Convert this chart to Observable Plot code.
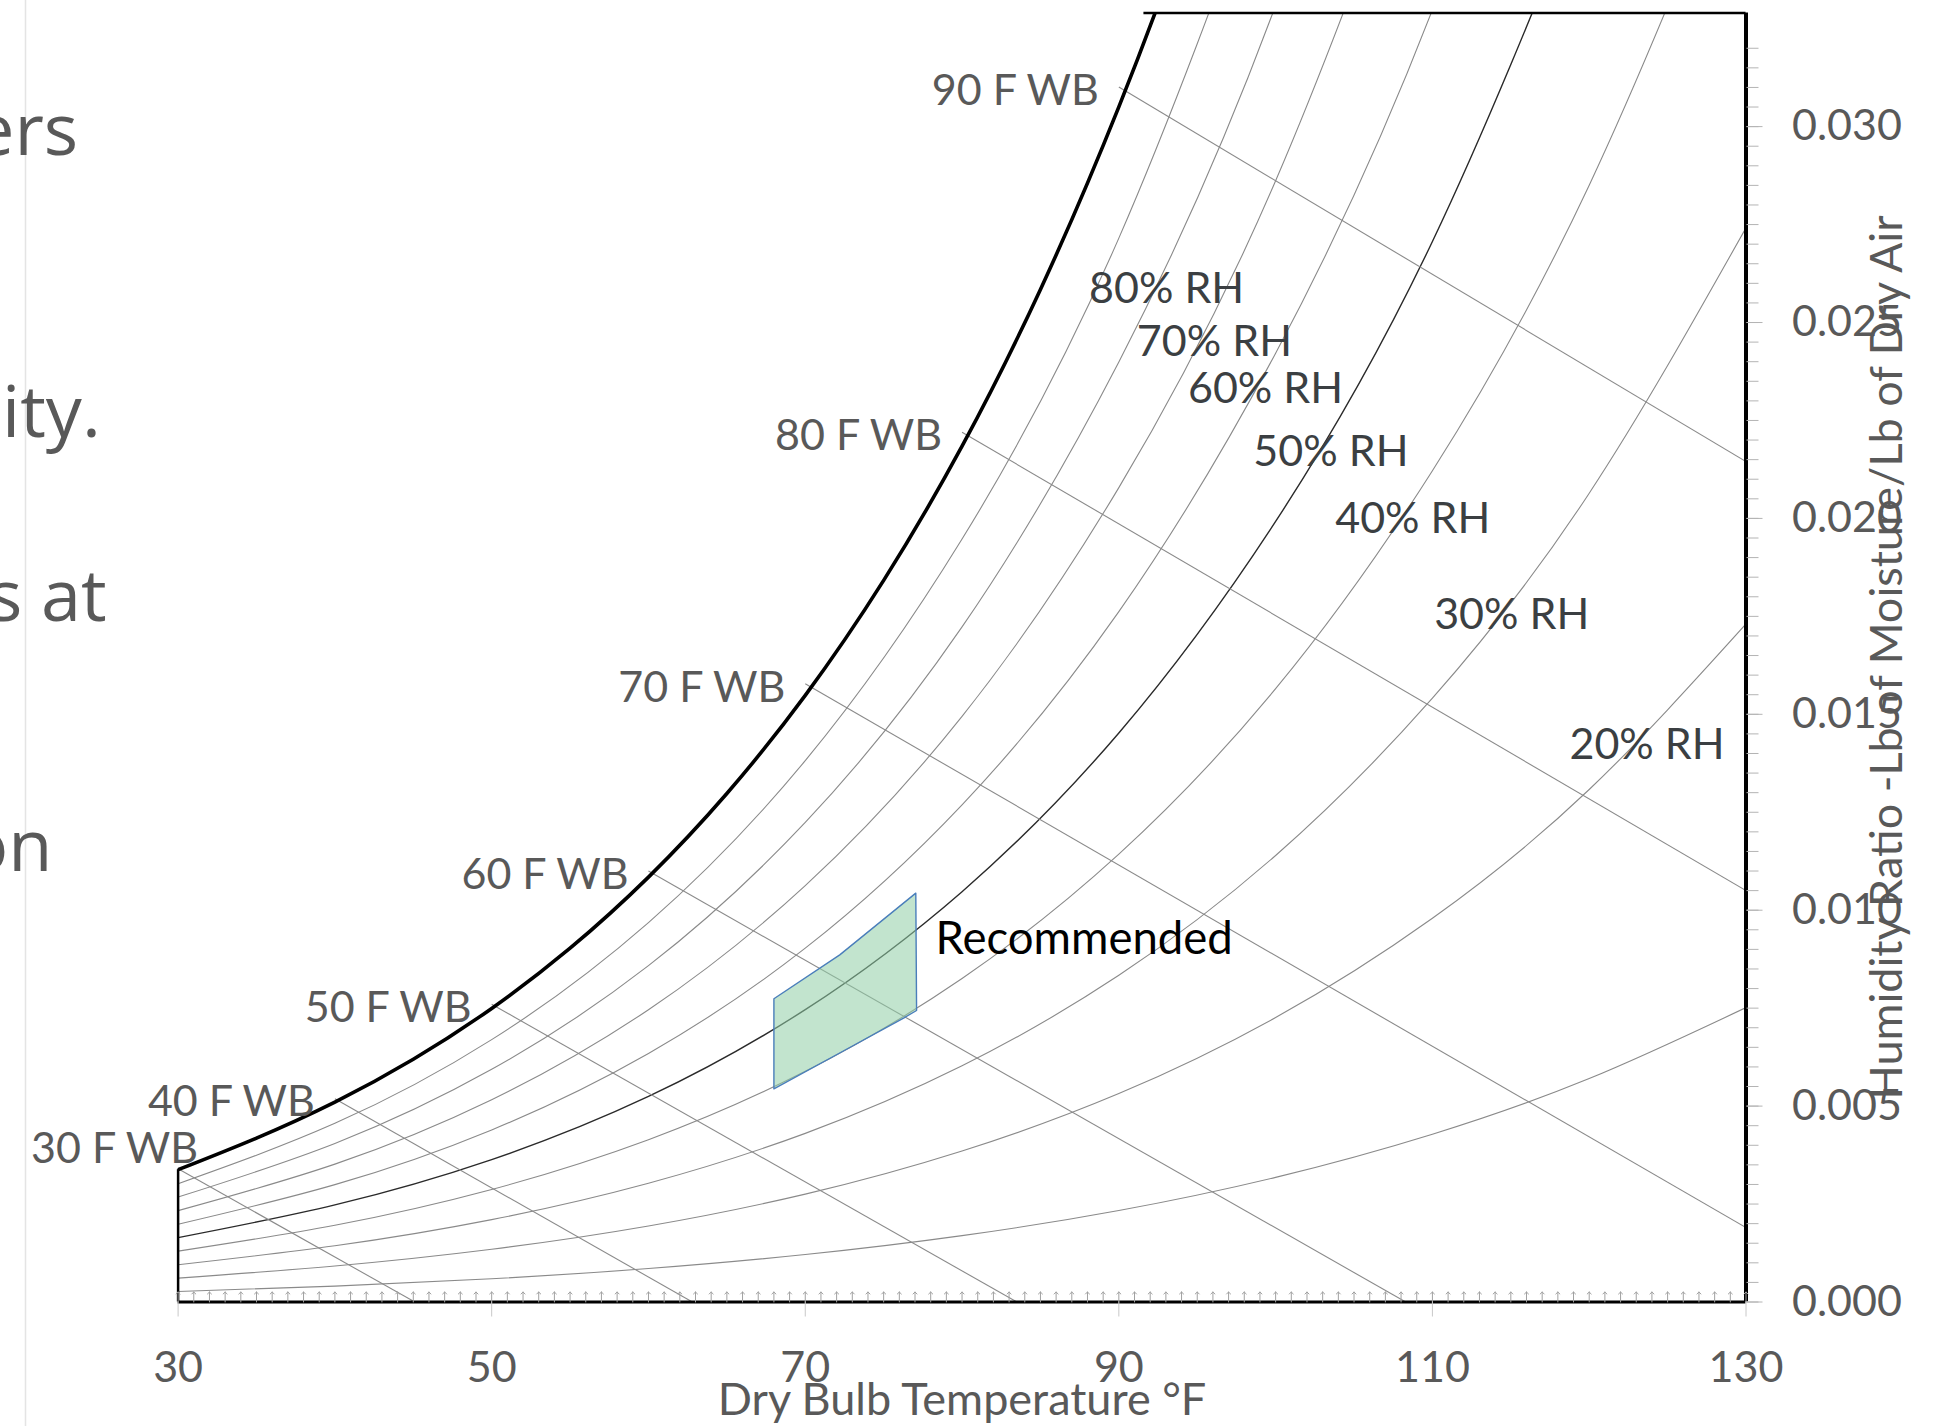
<!DOCTYPE html>
<html><head><meta charset="utf-8">
<script src="https://cdn.jsdelivr.net/npm/d3@7"></script>
<script src="https://cdn.jsdelivr.net/npm/@observablehq/plot@0.6"></script>
<style>
html,body{margin:0;padding:0;background:#fff;}
#wrap{position:relative;width:1947px;height:1426px;overflow:hidden;background:#fff;}
#chart{position:absolute;left:0;top:0;}
#slide{position:absolute;left:0;top:0;}
</style></head><body>
<div id="wrap">
<div id="chart"></div>
<svg id="slide" width="1947" height="1426">
  <line x1="25.5" y1="0" x2="25.5" y2="1426" stroke="#e4e4e4" stroke-width="1.5"/>
  <g font-family="'Open Sans', sans-serif" font-size="72" fill="#595959">
    <text x="-26" y="155">ers</text>
    <text x="2" y="437">ity.</text>
    <text x="-12" y="621">s at</text>
    <text x="-35" y="871">on</text>
  </g>
</svg>
</div>
<script>
// ---- data ----
const W_MAX = 0.0329;
const rhLevels = [10, 20, 30, 40, 50, 60, 70, 80, 90];
const rhTemps = [30, 40, 50, 60, 70, 80, 90, 100, 110, 120, 130];
const rh10 = [0.000269, 0.000405, 0.000593, 0.000854, 0.001211, 0.001693, 0.002335, 0.003181, 0.004282, 0.005702, 0.007514];
const rh20 = [0.000610, 0.000920, 0.001346, 0.001940, 0.002753, 0.003853, 0.005321, 0.007261, 0.009795, 0.013081, 0.017306];
const rh30 = [0.000951, 0.001435, 0.002102, 0.003031, 0.004304, 0.006029, 0.008338, 0.011397, 0.015411, 0.020643, 0.027417];
const rh40 = [0.001299, 0.001959, 0.002872, 0.004142, 0.005887, 0.008256, 0.011432, 0.015654, 0.021217, 0.028506, 0.038011];
const rh50 = [0.001644, 0.002479, 0.003635, 0.005246, 0.007462, 0.010473, 0.014524, 0.019923, 0.027068, 0.036480];
const rh60 = [0.001986, 0.002996, 0.004393, 0.006345, 0.009031, 0.012689, 0.017621, 0.024217, 0.032981, 0.044592];
const rh70 = [0.002332, 0.003519, 0.005163, 0.007460, 0.010628, 0.014947, 0.020786, 0.028618, 0.039071];
const rh80 = [0.002679, 0.004046, 0.005938, 0.008584, 0.012239, 0.017231, 0.023994, 0.033096, 0.045298];
const rh90 = [0.003019, 0.004560, 0.006696, 0.009685, 0.013817, 0.019473, 0.027154, 0.037527];

const satTemps = [30, 35, 40, 45, 50, 55, 60, 65, 70, 75, 80, 85, 90, 95, 100];
const satW = [0.003377, 0.004184, 0.005102, 0.006195, 0.007493, 0.009031, 0.010845, 0.012979, 0.015484, 0.018418, 0.021845, 0.025845, 0.030505, 0.035929, 0.042238];

const wbTemps = [30, 40, 50, 60, 70, 80, 90];
const wbStartW = [0.00340, 0.00519, 0.00760, 0.01100, 0.01578, 0.02220, 0.03101];
const wbEndT = [45.1, 62.8, 83.5, 108.3, 130, 130, 130];
const wbEndW = [0, 0, 0, 0, 0.0019, 0.0105, 0.02145];

const rhLabelText = ["80% RH", "70% RH", "60% RH", "50% RH", "40% RH", "30% RH", "20% RH"];
const rhLabelT = [88.10, 91.15, 94.41, 98.58, 103.80, 110.11, 118.74];
const rhLabelW = [0.025846, 0.024508, 0.023300, 0.021698, 0.019972, 0.017528, 0.014208];

const recT = [68.0, 68.0, 72.2, 77.05, 77.1, 76.3, 72.4, 68.0];
const recW = [0.00544, 0.00774, 0.00886, 0.010436, 0.00744, 0.007254, 0.00640, 0.00544];
const recLabel = ["Recommended"];
const recLabelT = [78.3];
const recLabelW = [0.009261];

const xTicks = [30, 50, 70, 90, 110, 130];
const yTicks = [0, 0.005, 0.010, 0.015, 0.020, 0.025, 0.030];
const xTitle = "Dry Bulb Temperature °F";
const yTitle = "Humidity Ratio -Lb of Moisture/Lb of Dry Air";

// ---- build tables ----
const rhSeries = [rh10, rh20, rh30, rh40, rh50, rh60, rh70, rh80, rh90];
const rhRows = rhLevels.flatMap((lv, i) => rhSeries[i].map((w, j) => ({rh: lv, t: rhTemps[j], w})));
const satRows = satTemps.map((t, i) => ({t, w: satW[i]}));
const wbRows = wbTemps.map((t, i) => ({t1: t, w1: wbStartW[i], t2: wbEndT[i], w2: wbEndW[i], label: `${t} F WB`}));
const rhLabels = rhLabelText.map((s, i) => ({s, t: rhLabelT[i], w: rhLabelW[i]}));
const recRows = recT.map((t, i) => ({t, w: recW[i]}));
const recLabels = recLabel.map((s, i) => ({s, t: recLabelT[i], w: recLabelW[i]}));
const yMinor = d3.range(0, 65).map(i => i * 0.0005).filter(v => v <= W_MAX);
const xMinor = d3.range(30, 131);

const FONT = "Lato, 'Open Sans', sans-serif";
const chart = Plot.plot({
  width: 1947,
  height: 1426,
  marginLeft: 177.6,
  marginRight: 201.5,
  marginTop: 12.5,
  marginBottom: 124.5,
  style: {fontFamily: FONT, fontSize: "43px", background: "transparent", overflow: "visible"},
  x: {domain: [30, 130]},
  y: {domain: [0, W_MAX]},
  marks: [
    // RH curves
    Plot.line(rhRows.filter(d => d.rh !== 50), {x: "t", y: "w", z: "rh", stroke: "#8a8a8a", strokeWidth: 1.1, curve: "natural", clip: true}),
    Plot.line(rhRows.filter(d => d.rh === 50), {x: "t", y: "w", stroke: "#2a2a2a", strokeWidth: 1.4, curve: "natural", clip: true}),
    // wet bulb lines
    Plot.link(wbRows, {x1: "t1", y1: "w1", x2: "t2", y2: "w2", stroke: "#8a8a8a", strokeWidth: 1.1, clip: true}),
    // saturation curve
    Plot.line(satRows, {x: "t", y: "w", stroke: "#000", strokeWidth: 3.6, curve: "natural", clip: true}),
    // recommended zone
    Plot.line(recRows, {x: "t", y: "w", fill: "#8fcea5", fillOpacity: 0.55, stroke: "#4a7ebb", strokeWidth: 1.4, curve: "linear"}),
    // frame pieces
    Plot.ruleY([0], {x1: 30, x2: 130, stroke: "#000", strokeWidth: 3}),
    Plot.ruleX([130], {y1: 0, y2: W_MAX, stroke: "#000", strokeWidth: 4}),
    Plot.ruleY([W_MAX], {x1: 91.6, x2: 130, stroke: "#000", strokeWidth: 2.5}),
    Plot.ruleX([30], {y1: 0, y2: satW[0], stroke: "#000", strokeWidth: 2.5}),
    // minor ticks inside the bottom edge
    Plot.vector(xMinor, {x: d => d, frameAnchor: "bottom", length: 10, anchor: "start", rotate: 0, stroke: "#a0a0a0", strokeWidth: 1}),
    // axes
    Plot.axisX({anchor: "bottom", ticks: xTicks, tickSize: 15, tickPadding: 34, tickFormat: d => String(d), fontSize: 43, fill: "#595959", stroke: "#c8c8c8", label: null}),
    Plot.axisY({anchor: "right", ticks: yMinor, tickSize: 12, tickFormat: () => "", stroke: "#b4b4b4", label: null}),
    Plot.axisY({anchor: "right", ticks: yTicks, tickSize: 16, tickPadding: 30, tickFormat: d3.format(".3f"), fontSize: 43, fill: "#595959", stroke: "#b4b4b4", label: null}),
    Plot.text([xTitle], {text: d => d, frameAnchor: "bottom", textAnchor: "middle", lineAnchor: "middle", dy: 99, fontSize: 45, fill: "#595959"}),
    Plot.text([yTitle], {text: d => d, frameAnchor: "right", textAnchor: "middle", lineAnchor: "middle", dx: 141.5, rotate: -90, fontSize: 45, fill: "#595959"}),
    // labels
    Plot.text(wbRows.filter(d => d.t1 !== 30), {x: "t1", y: "w1", text: "label", textAnchor: "end", dx: -20, dy: 4, fontSize: 43, fill: "#595959"}),
    Plot.text(wbRows.filter(d => d.t1 === 30), {x: "t1", y: "w1", text: "label", textAnchor: "end", dx: 20, dy: -20, fontSize: 43, fill: "#595959"}),
    Plot.text(rhLabels, {x: "t", y: "w", text: "s", textAnchor: "start", fontSize: 43, fill: "#3b3f42"}),
    Plot.text(recLabels, {x: "t", y: "w", text: "s", textAnchor: "start", fontSize: 45.5, fill: "#000"})
  ]
});
document.getElementById("chart").appendChild(chart);
</script>
</body></html>
